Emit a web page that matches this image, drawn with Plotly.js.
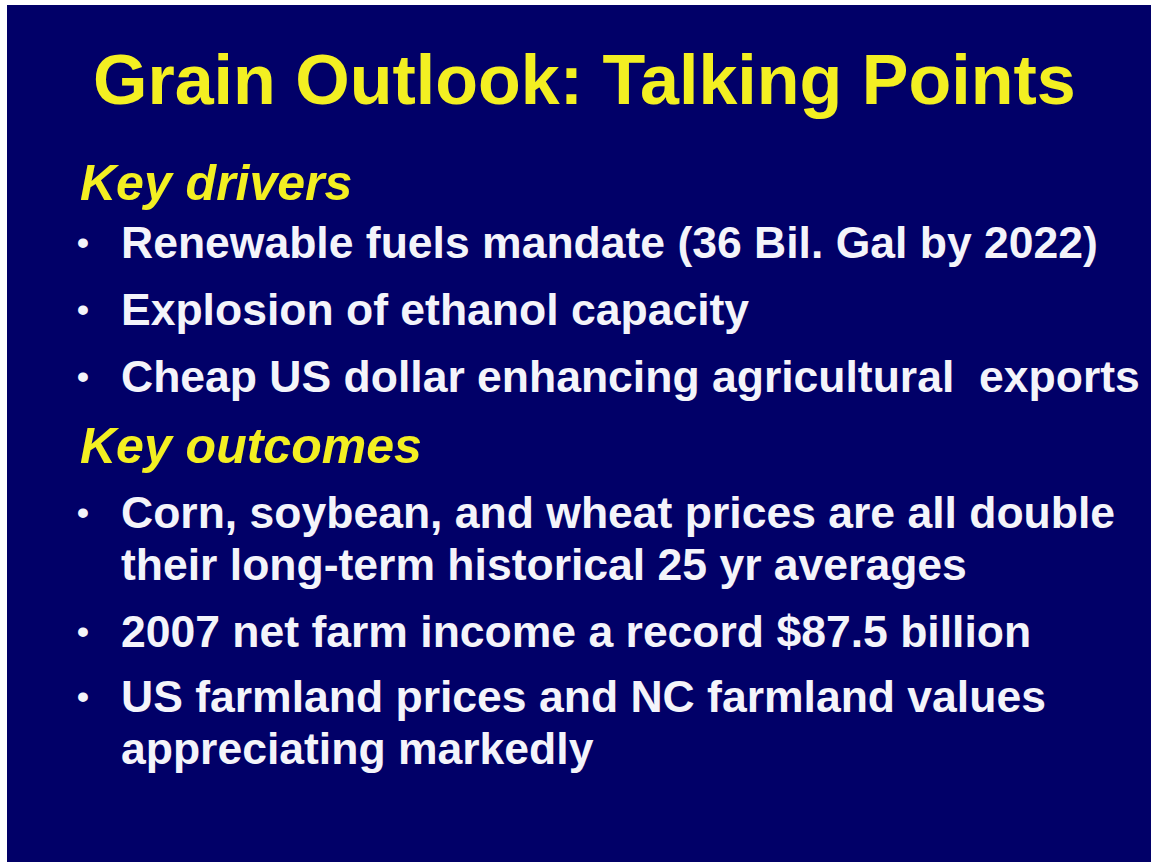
<!DOCTYPE html>
<html>
<head>
<meta charset="utf-8">
<script src="https://cdn.plot.ly/plotly-3.0.1.min.js"></script>
<style>
html,body{margin:0;padding:0;background:#ffffff;}
#chart{width:1151px;height:862px;}
</style>
</head>
<body>
<div id="chart"></div>
<script>
// Slide content
var slideTitle = "Grain Outlook: Talking Points";
var headings = ["Key drivers", "Key outcomes"];
var driverBullets = [
  ["Renewable fuels mandate (36 Bil. Gal by 2022)"],
  ["Explosion of ethanol capacity"],
  ["Cheap US dollar enhancing agricultural\u00a0 exports"]
];
var outcomeBullets = [
  ["Corn, soybean, and wheat prices are all double", "their long-term historical 25 yr averages"],
  ["2007 net farm income a record $87.5 billion"],
  ["US farmland prices and NC farmland values", "appreciating markedly"]
];

var W = 1151, H = 862;
var FONT = "Liberation Sans, Arial, sans-serif";
var YELLOW = "#f3ef22";
var WHITE = "#f4f4fa";
var NAVY = "#010068";

function px(x){ return x / W; }
function py(y){ return 1 - y / H; }

var annotations = [];
function addText(text, x, yCenter, size, color, italic){
  annotations.push({
    text: italic ? "<i>" + text + "</i>" : text,
    xref: "paper", yref: "paper",
    x: px(x), y: py(yCenter),
    xanchor: "left", yanchor: "middle",
    showarrow: false,
    font: {family: FONT, size: size, color: color, weight: "bold"}
  });
}

// Title
addText(slideTitle, 91, 80, 70, YELLOW, false);

// Layout rhythm (baselines in px)
var headSize = 50, bodySize = 44.5;
var bodyOffset = 0.35 * bodySize;
var headBase = [200, 463];
var firstBodyBase = [258, 528];
var bulletGaps = [[67, 67], [67, 65]];
var gapLine = 52;
var groups = [driverBullets, outcomeBullets];

for (var g = 0; g < groups.length; g++) {
  addText(headings[g], 78, headBase[g] - 0.35 * headSize, headSize, YELLOW, true);
  var y = firstBodyBase[g];
  var items = groups[g];
  for (var i = 0; i < items.length; i++) {
    addText("\u2022", 75, y - bodyOffset, 34, WHITE, false);
    for (var l = 0; l < items[i].length; l++) {
      addText(items[i][l], 119, y - bodyOffset, bodySize, WHITE, false);
      if (l < items[i].length - 1) y += gapLine;
    }
    if (i < items.length - 1) y += bulletGaps[g][i];
  }
}

var layout = {
  width: W, height: H,
  margin: {l: 0, r: 0, t: 0, b: 0},
  paper_bgcolor: "#ffffff",
  plot_bgcolor: "rgba(0,0,0,0)",
  xaxis: {visible: false, range: [0, 1], fixedrange: true},
  yaxis: {visible: false, range: [0, 1], fixedrange: true},
  showlegend: false,
  shapes: [{
    type: "rect", xref: "paper", yref: "paper", layer: "below",
    x0: px(7), x1: 1, y0: 0, y1: py(5),
    fillcolor: NAVY, line: {width: 0}
  }],
  annotations: annotations
};

Plotly.newPlot("chart", [], layout, {displayModeBar: false, staticPlot: true});
</script>
</body>
</html>
